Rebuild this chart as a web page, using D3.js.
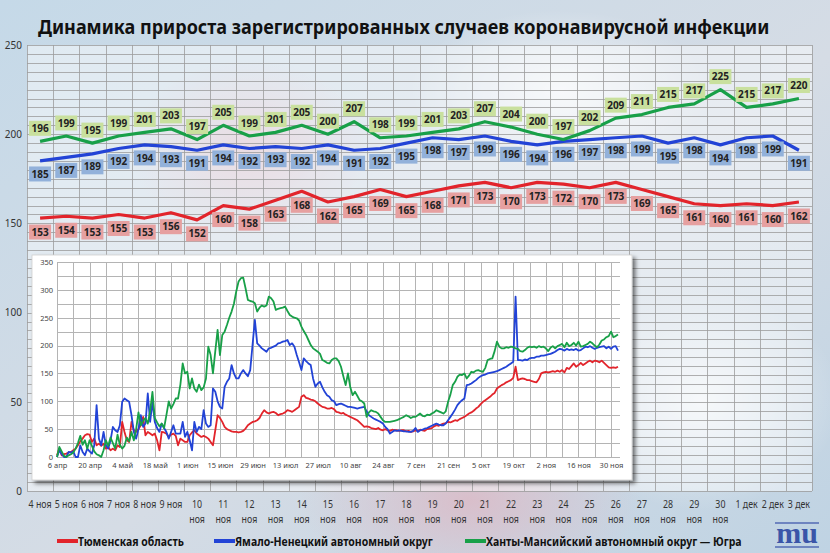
<!DOCTYPE html>
<html>
<head>
<meta charset="utf-8">
<script src="https://cdn.jsdelivr.net/npm/d3@7/dist/d3.min.js"></script>
<style>
  body { margin: 0; background: #fff; }
  svg { display: block; }
</style>
</head>
<body>
<svg id="chart" width="830" height="553"></svg>
<script>
// ---- main chart data: 4 ноя .. 3 дек ----
const dates = ['4 ноя', '5 ноя', '6 ноя', '7 ноя', '8 ноя', '9 ноя', '10 ноя', '11 ноя', '12 ноя', '13 ноя',
  '14 ноя', '15 ноя', '16 ноя', '17 ноя', '18 ноя', '19 ноя', '20 ноя', '21 ноя', '22 ноя', '23 ноя',
  '24 ноя', '25 ноя', '26 ноя', '27 ноя', '28 ноя', '29 ноя', '30 ноя', '1 дек', '2 дек', '3 дек'];
const tyumen = [153, 154, 153, 155, 153, 156, 152, 160, 158, 163, 168, 162, 165, 169, 165,
  168, 171, 173, 170, 173, 172, 170, 173, 169, 165, 161, 160, 161, 160, 162];
const yamal = [185, 187, 189, 192, 194, 193, 191, 194, 192, 193, 192, 194, 191, 192, 195,
  198, 197, 199, 196, 194, 196, 197, 198, 199, 195, 198, 194, 198, 199, 191];
const hmao = [196, 199, 195, 199, 201, 203, 197, 205, 199, 201, 205, 200, 207, 198, 199,
  201, 203, 207, 204, 200, 197, 202, 209, 211, 215, 217, 225, 215, 217, 220];
const yTicks = [0, 50, 100, 150, 200, 250];

// ---- inset data: daily from 6 апр, the last 30 days are the main chart values ----
const tyumenEarly = [
  3, 15, 3, 5, 6, 8, 9,  12, 15, 21, 28, 33, 39, 41,  40, 27, 33, 21, 24, 20, 24,
  15, 18, 12, 15, 12, 21, 18,  63, 45, 30, 27, 63, 48, 45,  50, 57, 72, 39, 45, 42, 39,
  42, 30, 12, 45, 44, 42, 36,  40, 42, 38, 21, 33, 30, 27,  27, 39, 44, 48, 42, 39, 36,
  38, 36, 33, 27, 21, 48, 75,  70, 63, 54, 50, 48, 46, 45,  45, 44, 45, 47, 51, 57, 60,
  63, 64, 66, 70, 78, 84, 80,  78, 80, 81, 79, 75, 77, 78,  80, 84, 83, 81, 84, 87, 90,
  108, 111, 106, 105, 103, 102, 100,  96, 93, 90, 89, 87, 87, 88,  86, 81, 80, 78, 79, 76, 74,
  72, 70, 68, 66, 62, 58, 54,  55, 54, 52, 51, 50, 52, 49,  48, 50, 48, 47, 49, 48, 48,
  47, 48, 48, 46, 47, 45, 46,  48, 47, 49, 48, 47, 50, 51,  52, 55, 57, 56, 58, 60, 61,
  63, 62, 64, 66, 65, 68, 70,  72, 75, 78, 80, 83, 87, 90,  95, 99, 102, 105, 108, 112, 115,
  123, 126, 129, 131, 134, 136, 138,  142, 162, 138, 140, 141, 140, 138,
  138, 136, 135, 134, 140, 150, 152,  153, 152];
const yamalEarly = [
  0, 12, 5, 0, 0, 9, 8,  10, 0, 0, 21, 9, 3, 15,  10, 6, 21, 93, 33, 21, 45,
  21, 15, 30, 54, 48, 45, 57,  99, 105, 102, 99, 75, 45, 33,  50, 75, 54, 60, 114, 63, 99,
  63, 52, 45, 60, 52, 45, 33,  45, 57, 42, 42, 42, 63, 36,  45, 30, 12, 63, 45, 54, 50,
  84, 60, 54, 57, 123, 117, 100,  90, 87, 126, 135, 141, 165, 150,  141, 141, 150, 156, 150, 145, 156,
  201, 246, 204, 200, 195, 192, 189,  195, 196, 198, 200, 204, 205, 207,  208, 210, 201, 204, 198, 183, 170,
  156, 177, 172, 168, 165, 141, 126,  132, 135, 125, 117, 111, 108, 102,  100, 93, 95, 96, 94, 92, 90,
  90, 89, 88, 87, 88, 89, 90,  82, 75, 72, 69, 67, 65, 63,  60, 54, 50, 42, 45, 48, 47,
  48, 47, 46, 46, 45, 45, 47,  52, 45, 48, 49, 51, 52, 54,  56, 58, 60, 58, 57, 57, 60,
  66, 72, 78, 85, 93, 98, 102,  105, 129, 130, 132, 135, 138, 142,  145, 147, 148, 150, 151, 152, 153,
  154, 156, 158, 160, 162, 165, 168,  171, 288, 174, 174, 173, 175, 174,
  177, 178, 178, 180, 180, 182, 182,  183, 184];
const hmaoEarly = [
  0, 18, 10, 2, 0, 3, 5,  8, 15, 25, 38, 22, 30, 15,  30, 20, 10, 5, 3, 0, 12,
  30, 20, 35, 25, 15, 40, 22,  15, 20, 35, 28, 45, 30, 50,  80, 57, 65, 70, 60, 82, 117,
  70, 62, 55, 60, 52, 75, 100,  87, 95, 105, 105, 130, 168, 150,  153, 123, 141, 123, 117, 130, 120,
  125, 141, 198, 183, 150, 190, 228,  183, 219, 225, 237, 250, 261, 275,  297, 315, 321, 322, 303, 282, 280,
  279, 276, 261, 268, 272, 270, 272,  288, 285, 279, 264, 266, 267, 268,  270, 262, 255, 252, 250, 249, 245,
  234, 226, 219, 210, 201, 195, 192,  189, 185, 174, 172, 169, 168, 174,  177, 177, 172, 162, 145, 129, 150,
  125, 111, 117, 110, 102, 100, 96,  72, 80, 84, 82, 81, 78, 72,  66, 63, 63, 63, 64, 65, 66,
  68, 70, 72, 75, 73, 70, 72,  72, 75, 78, 74, 73, 76, 75,  78, 80, 84, 82, 80, 78, 82,
  99, 112, 129, 135, 144, 148, 147,  150, 141, 146, 153, 152, 155, 156,  154, 153, 160, 174, 176, 177, 190,
  207, 198, 195, 195, 197, 196, 198,  197, 195, 194, 190, 189, 192, 196,
  198, 197, 198, 196, 199, 197, 198,  195, 190];
const insetTyumen = tyumenEarly.concat(tyumen);
const insetYamal = yamalEarly.concat(yamal);
const insetHmao = hmaoEarly.concat(hmao);
const insetTickLabels = ['6 апр', '20 апр', '4 май', '18 май', '1 июн', '15 июн', '29 июн', '13 июл', '27 июл',
  '10 авг', '24 авг', '7 сен', '21 сен', '5 окт', '19 окт', '2 ноя', '16 ноя', '30 ноя'];
const insetYTicks = [0, 50, 100, 150, 200, 250, 300, 350];

const seriesNames = ['Тюменская область', 'Ямало-Ненецкий автономный округ', 'Ханты-Мансийский автономный округ — Югра'];
const colors = ['#e2242b', '#2243d6', '#18a048'];
const labelFills = ['#e6a0a0', '#92b1da', '#c9e09e'];

const W = 830, H = 553;
const FONT = 'Noto Sans, sans-serif';
const svg = d3.select('#chart');
const defs = svg.append('defs');

// squeeze a text horizontally (narrow, Calibri-like look) to a target width
function squeeze(sel, width) {
  sel.each(function (d, i) {
    const w = typeof width === 'function' ? width(d, i) : width;
    const t = d3.select(this);
    const len = this.getComputedTextLength();
    const x0 = +t.attr('x') || 0;
    const k = w / len;
    t.attr('transform', `translate(${x0 * (1 - k)},0) scale(${k},1)`);
  });
}

// background
const bg = defs.append('linearGradient').attr('id', 'bg')
  .attr('x1', 0).attr('y1', 0).attr('x2', 1).attr('y2', 1);
bg.append('stop').attr('offset', '0%').attr('stop-color', '#c5d9e8');
bg.append('stop').attr('offset', '55%').attr('stop-color', '#d5dce5');
bg.append('stop').attr('offset', '100%').attr('stop-color', '#bfd3e3');
svg.append('rect').attr('width', W).attr('height', H).attr('fill', 'url(#bg)');

const blob = defs.append('radialGradient').attr('id', 'blob');
blob.append('stop').attr('offset', '0%').attr('stop-color', '#dcb8c4').attr('stop-opacity', 0.8);
blob.append('stop').attr('offset', '100%').attr('stop-color', '#dcb8c4').attr('stop-opacity', 0);
const glow = defs.append('radialGradient').attr('id', 'glow');
glow.append('stop').attr('offset', '0%').attr('stop-color', '#ffffff').attr('stop-opacity', 0.7);
glow.append('stop').attr('offset', '100%').attr('stop-color', '#ffffff').attr('stop-opacity', 0);

svg.append('ellipse').attr('cx', 470).attr('cy', 500).attr('rx', 170).attr('ry', 90).attr('fill', 'url(#blob)');
svg.append('ellipse').attr('cx', 250).attr('cy', 150).attr('rx', 120).attr('ry', 90).attr('fill', 'url(#blob)');
svg.append('ellipse').attr('cx', 560).attr('cy', 90).attr('rx', 150).attr('ry', 80).attr('fill', 'url(#glow)');
svg.append('ellipse').attr('cx', 700).attr('cy', 400).attr('rx', 140).attr('ry', 110).attr('fill', 'url(#glow)');

// ---- main chart ----
const plot = { left: 27, right: 812, top: 45, bottom: 491 };
const x = d3.scaleBand().domain(dates).range([plot.left, plot.right]);
const y = d3.scaleLinear().domain([0, 250]).range([plot.bottom, plot.top]);
const cx = d => x(d) + x.bandwidth() / 2;

svg.append('rect')
  .attr('x', plot.left).attr('y', plot.top)
  .attr('width', plot.right - plot.left).attr('height', plot.bottom - plot.top)
  .attr('fill', '#ffffff').attr('fill-opacity', 0.45);

const grid = svg.append('g').attr('stroke', '#9c9c9c').attr('stroke-width', 0.8);
grid.selectAll('line.h')
  .data(d3.range(0, 251, 5))
  .join('line')
  .attr('class', 'h')
  .attr('x1', plot.left).attr('x2', plot.right)
  .attr('y1', d => Math.round(y(d)) + 0.5).attr('y2', d => Math.round(y(d)) + 0.5);
grid.selectAll('line.v')
  .data(dates.map(d => x(d)).concat([plot.right]))
  .join('line')
  .attr('class', 'v')
  .attr('x1', d => Math.round(d) + 0.5).attr('x2', d => Math.round(d) + 0.5)
  .attr('y1', plot.top).attr('y2', plot.bottom);

const yAxis = svg.append('g')
  .attr('transform', `translate(${plot.left - 5},0)`)
  .call(d3.axisLeft(y).tickValues(yTicks).tickSize(0).tickPadding(0));
yAxis.select('.domain').remove();
yAxis.selectAll('text')
  .attr('font-family', FONT).attr('font-size', 10).attr('fill', '#333');

// category labels: two-digit days wrap onto two lines, like the original
const xAxis = svg.append('g')
  .attr('transform', `translate(0,${plot.bottom})`)
  .call(d3.axisBottom(x).tickSize(0).tickPadding(0));
xAxis.select('.domain').remove();
xAxis.selectAll('.tick text').remove();
xAxis.selectAll('.tick').each(function (d) {
  const parts = d.split(' ');
  const lines = parts[0].length > 1 ? parts : [d];
  d3.select(this).selectAll('text.lbl')
    .data(lines)
    .join('text')
    .attr('class', 'lbl')
    .attr('text-anchor', 'middle')
    .attr('transform', (l, j) => `translate(0,${17 + j * 14.5}) scale(0.84,1)`)
    .attr('font-family', FONT).attr('font-size', 10.5).attr('fill', '#333')
    .text(l => l);
});

const line = d3.line().x((d, i) => cx(dates[i])).y(d => y(d));
const mainSeries = [tyumen, yamal, hmao];
const labelOffset = [14, 13, -13];

mainSeries.forEach((s, k) => {
  svg.append('path')
    .datum(s)
    .attr('fill', 'none')
    .attr('stroke', colors[k])
    .attr('stroke-width', 3.2)
    .attr('stroke-linejoin', 'round')
    .attr('d', line);
});

mainSeries.forEach((s, k) => {
  const g = svg.append('g').selectAll('g')
    .data(s)
    .join('g')
    .attr('transform', (d, i) => `translate(${cx(dates[i])},${y(d) + labelOffset[k]})`);
  g.append('rect')
    .attr('x', -11).attr('y', -7.5).attr('width', 22).attr('height', 15)
    .attr('fill', labelFills[k]);
  g.append('text')
    .attr('text-anchor', 'middle').attr('dy', '0.36em')
    .attr('font-family', FONT).attr('font-size', 10).attr('font-weight', 700)
    .attr('fill', '#222')
    .text(d => d);
});

// title
svg.append('text')
  .attr('x', 38).attr('y', 34)
  .attr('font-family', FONT).attr('font-size', 20).attr('font-weight', 700)
  .attr('fill', '#111')
  .text('Динамика прироста зарегистрированных случаев коронавирусной инфекции')
  .call(squeeze, 732);

// ---- inset chart ----
const shadow = defs.append('filter').attr('id', 'shadow')
  .attr('x', '-5%').attr('y', '-5%').attr('width', '115%').attr('height', '115%');
shadow.append('feDropShadow').attr('dx', 3).attr('dy', 3).attr('stdDeviation', 2)
  .attr('flood-color', '#000').attr('flood-opacity', 0.55);

svg.append('rect')
  .attr('x', 32).attr('y', 255).attr('width', 600).attr('height', 225)
  .attr('fill', '#ffffff').attr('stroke', '#cfcfcf').attr('stroke-width', 0.8)
  .attr('filter', 'url(#shadow)');

const ix = d3.scaleLinear().domain([0, 241]).range([57, 618]);
const iy = d3.scaleLinear().domain([0, 350]).range([457, 262]);

const igrid = svg.append('g').attr('stroke', '#b4b4b4').attr('stroke-width', 1);
igrid.selectAll('line.h')
  .data(d3.range(0, 351, 25))
  .join('line')
  .attr('class', 'h')
  .attr('x1', ix(0)).attr('x2', 620)
  .attr('y1', d => Math.round(iy(d)) + 0.5).attr('y2', d => Math.round(iy(d)) + 0.5);
igrid.selectAll('line.v')
  .data(d3.range(0, 242, 7))
  .join('line')
  .attr('class', 'v')
  .attr('x1', d => Math.round(ix(d)) + 0.5).attr('x2', d => Math.round(ix(d)) + 0.5)
  .attr('y1', iy(350)).attr('y2', iy(0));

const iyAxis = svg.append('g')
  .attr('transform', `translate(${ix(0) - 4},0)`)
  .call(d3.axisLeft(iy).tickValues(insetYTicks).tickSize(0).tickPadding(0));
iyAxis.select('.domain').remove();
iyAxis.selectAll('text')
  .attr('font-family', FONT).attr('font-size', 7.5).attr('fill', '#444');

const ixAxis = svg.append('g')
  .attr('transform', `translate(0,${iy(0)})`)
  .call(d3.axisBottom(ix)
    .tickValues(insetTickLabels.map((d, i) => i * 14))
    .tickFormat((d, i) => insetTickLabels[i])
    .tickSize(0).tickPadding(6));
ixAxis.select('.domain').remove();
ixAxis.selectAll('text')
  .attr('font-family', FONT).attr('font-size', 7.5).attr('fill', '#444');

const iline = d3.line().x((d, i) => ix(i)).y(d => iy(d));
[insetTyumen, insetYamal, insetHmao].forEach((s, k) => {
  svg.append('path')
    .datum(s)
    .attr('fill', 'none')
    .attr('stroke', colors[k])
    .attr('stroke-width', 1.8)
    .attr('stroke-linejoin', 'round')
    .attr('d', iline);
});

// ---- legend ----
const legendX = [57, 214, 465];
const legendW = [106, 198, 256];
const legend = svg.append('g').selectAll('g')
  .data(seriesNames)
  .join('g')
  .attr('transform', (d, i) => `translate(${legendX[i]},541)`);
legend.append('line')
  .attr('x1', 0).attr('x2', 21).attr('y1', 0).attr('y2', 0)
  .attr('stroke', (d, i) => colors[i]).attr('stroke-width', 4);
legend.append('text')
  .attr('x', 21).attr('y', 5)
  .attr('font-family', FONT).attr('font-size', 13).attr('font-weight', 700)
  .attr('fill', '#111')
  .text(d => d)
  .call(squeeze, (d, i) => legendW[i]);

// logo
const logo = svg.append('g').attr('transform', 'translate(773,522)');
logo.append('rect').attr('x', 2).attr('y', 0).attr('width', 44).attr('height', 2).attr('fill', '#4a63b0').attr('opacity', 0.7);
logo.append('text')
  .attr('x', 24).attr('y', 21).attr('text-anchor', 'middle')
  .attr('font-family', 'Liberation Serif, serif').attr('font-size', 30).attr('font-weight', 700)
  .attr('fill', '#3a55a8')
  .text('mu');
logo.append('rect').attr('x', 2).attr('y', 24).attr('width', 44).attr('height', 2).attr('fill', '#4a63b0').attr('opacity', 0.7);
</script>
</body>
</html>
